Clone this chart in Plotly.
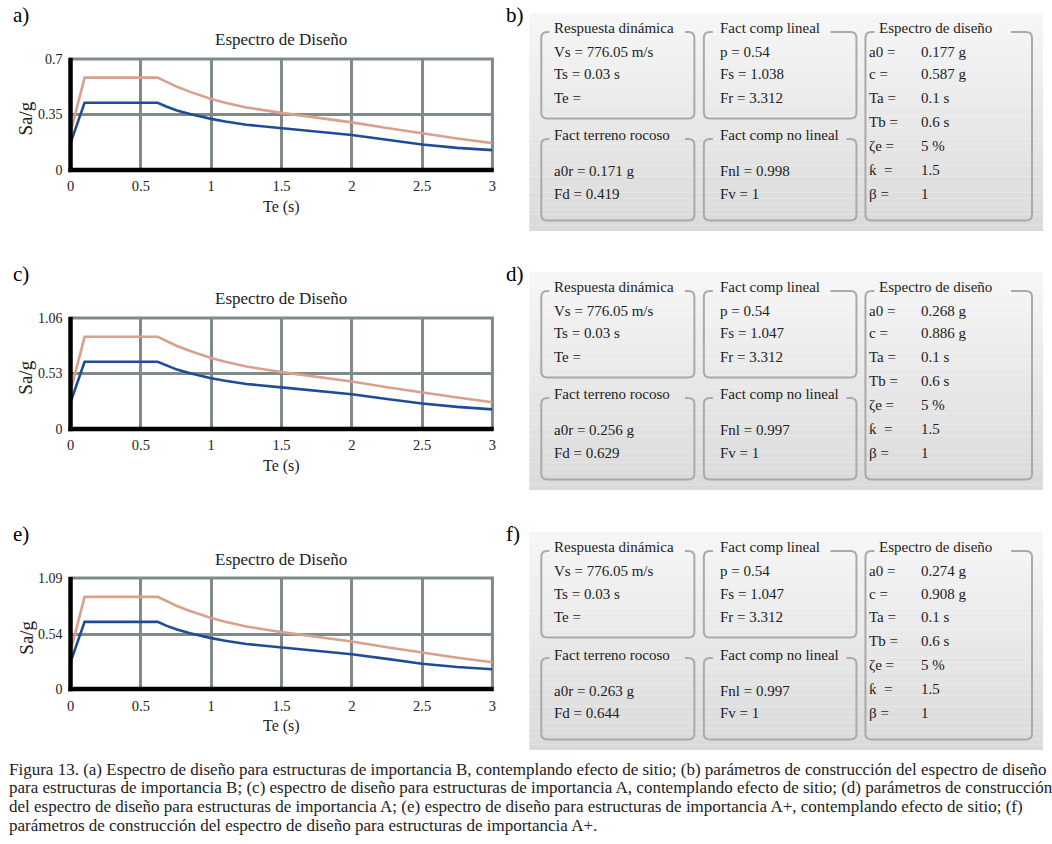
import plotly.graph_objects as go

W, H = 1052, 844
# measured mapping between figure pixels and the photographed picture (obs = A + S * fig)
AX, SX = 3.3, 0.995
AY, SY = 8.1, 0.982

# ---------------- data ----------------
T = [0, 0.1, 0.62, 0.68, 0.757, 0.85, 1.0, 1.1, 1.25, 1.5, 1.75, 2.0, 2.25, 2.5, 2.75, 3.0]

sa_a_upper = [0.236, 0.582, 0.582, 0.555, 0.524, 0.492, 0.447, 0.424, 0.394, 0.360, 0.331, 0.300, 0.264, 0.230, 0.198, 0.169]
sa_a_lower = [0.170, 0.424, 0.424, 0.400, 0.375, 0.352, 0.322, 0.305, 0.285, 0.264, 0.245, 0.220, 0.190, 0.160, 0.139, 0.125]

sa_c_upper = [0.360, 0.880, 0.880, 0.840, 0.793, 0.745, 0.677, 0.643, 0.597, 0.543, 0.501, 0.453, 0.399, 0.348, 0.300, 0.255]
sa_c_lower = [0.255, 0.642, 0.642, 0.606, 0.567, 0.533, 0.484, 0.460, 0.430, 0.397, 0.368, 0.332, 0.287, 0.243, 0.211, 0.187]

sa_e_upper = [0.370, 0.905, 0.905, 0.864, 0.816, 0.766, 0.697, 0.661, 0.614, 0.559, 0.515, 0.467, 0.411, 0.358, 0.308, 0.263]
sa_e_lower = [0.265, 0.660, 0.660, 0.623, 0.584, 0.548, 0.500, 0.474, 0.443, 0.410, 0.380, 0.342, 0.296, 0.249, 0.216, 0.194]

y_max = [0.7, 1.06, 1.09]
y_mid = [0.35, 0.53, 0.54]
y_tick_text = [["0", "0.35", "0.7"], ["0", "0.53", "1.06"], ["0", "0.54", "1.09"]]
x_ticks = [0, 0.5, 1, 1.5, 2, 2.5, 3]
x_tick_text = ["0", "0.5", "1", "1.5", "2", "2.5", "3"]

chart_labels = ["a)", "c)", "e)"]
param_labels = ["b)", "d)", "f)"]
chart_title = "Espectro de Diseño"
x_title = "Te (s)"
y_title = "Sa/g"

box_titles = ["Respuesta dinámica", "Fact comp lineal", "Espectro de diseño",
              "Fact terreno rocoso", "Fact comp no lineal"]
resp_lines = ["Vs = 776.05 m/s", "Ts = 0.03 s", "Te ="]
lin_p = "p = 0.54"
lin_fs = ["1.038", "1.047", "1.047"]
lin_fr = "3.312"
rock_a0r = ["0.171 g", "0.256 g", "0.263 g"]
rock_fd = ["0.419", "0.629", "0.644"]
nl_fnl = ["0.998", "0.997", "0.997"]
nl_fv = "1"
spec_names = ["a0 =", "c =", "Ta =", "Tb =", "ζe =", "ƙ  =", "β ="]
spec_a0 = ["0.177 g", "0.268 g", "0.274 g"]
spec_c = ["0.587 g", "0.886 g", "0.908 g"]
spec_rest = ["0.1 s", "0.6 s", "5 %", "1.5", "1"]

caption_lines = [
    "Figura 13. (a) Espectro de diseño para estructuras de importancia B, contemplando efecto de sitio; (b) parámetros de construcción del espectro de diseño",
    "para estructuras de importancia B; (c) espectro de diseño para estructuras de importancia A, contemplando efecto de sitio; (d) parámetros de construcción",
    "del espectro de diseño para estructuras de importancia A; (e) espectro de diseño para estructuras de importancia A+, contemplando efecto de sitio; (f)",
    "parámetros de construcción del espectro de diseño para estructuras de importancia A+.",
]

# ---------------- styling ----------------
FONT = "Liberation Serif"
TXT = "#222222"
ORANGE = "#D9A18D"
BLUE = "#1F4C97"
GRID = "#7E8B89"
BORDER = "#AAAAAA"


def px(x):
    return ((x - AX) / SX) / W


def py(y):
    return 1 - ((y - AY) / SY) / H


fig = go.Figure()
shapes = []
annotations = []


def note(x, y, s, size=15, anchor="left", color=TXT, angle=0):
    return dict(x=px(x), y=py(y), xref="paper", yref="paper", text=s, showarrow=False,
                xanchor=anchor, yanchor="middle", textangle=angle,
                font=dict(family=FONT, size=size, color=color))


series = [(sa_a_upper, sa_a_lower), (sa_c_upper, sa_c_lower), (sa_e_upper, sa_e_lower)]
offsets = [0, 259, 519]
plot_top = 60
plot_bot = 171
plot_left = 70
plot_right = 493

for i, (up, lo) in enumerate(series):
    off = offsets[i]
    xa = "x" if i == 0 else f"x{i+1}"
    ya = "y" if i == 0 else f"y{i+1}"
    fig.add_trace(go.Scatter(x=T, y=up, mode="lines", line=dict(color=ORANGE, width=2.6),
                             xaxis=xa, yaxis=ya, showlegend=False, hoverinfo="skip"))
    fig.add_trace(go.Scatter(x=T, y=lo, mode="lines", line=dict(color=BLUE, width=2.6),
                             xaxis=xa, yaxis=ya, showlegend=False, hoverinfo="skip"))
    axkey = "xaxis" if i == 0 else f"xaxis{i+1}"
    aykey = "yaxis" if i == 0 else f"yaxis{i+1}"
    fig.update_layout(**{
        axkey: dict(domain=[px(plot_left), px(plot_right)], range=[0, 3], anchor=ya,
                    tickvals=x_ticks, ticktext=x_tick_text, showgrid=True, gridcolor=GRID,
                    gridwidth=3, zeroline=False, showline=False, ticks="",
                    ticklabelstandoff=6, tickfont=dict(family=FONT, size=14.5, color=TXT)),
        aykey: dict(domain=[py(plot_bot + off), py(plot_top + off)], range=[0, y_max[i]], anchor=xa,
                    tickvals=[0, y_mid[i], y_max[i]], ticktext=y_tick_text[i], showgrid=True,
                    gridcolor=GRID, gridwidth=3, zeroline=False, showline=False, ticks="",
                    ticklabelstandoff=7, tickfont=dict(family=FONT, size=14, color=TXT)),
    })
    xd = f"{xa} domain"
    yd = f"{ya} domain"
    shapes.append(dict(type="rect", xref=xd, yref=yd, x0=0, x1=1, y0=0, y1=1,
                       line=dict(color=GRID, width=3), layer="below"))
    shapes.append(dict(type="line", xref=xd, yref=yd, x0=0, x1=0, y0=-0.02, y1=1.01,
                       line=dict(color="black", width=4.5), layer="above"))
    shapes.append(dict(type="line", xref=xd, yref=yd, x0=-0.005, x1=1.003, y0=0, y1=0,
                       line=dict(color="black", width=4.5), layer="above"))
    cx = (plot_left + plot_right) / 2
    annotations += [
        note(cx, 41 + off, chart_title, size=17, anchor="center"),
        note(cx, 208 + off, x_title, size=16, anchor="center"),
        note(25, 120 + off, y_title, size=19, anchor="center", angle=-90),
        note(10, 16 + off, chart_labels[i], size=21, color="black"),
    ]


def rounded_box(x0, y0, x1, y1, gap=None, r=6):
    """open rounded-rectangle path (pixel coords -> paper) with an optional gap in top edge"""
    def P(x, y):
        return f"{px(x):.5f},{py(y):.5f}"
    g0, g1 = gap if gap else (x0 + r, x0 + r)
    d = (f"M{P(g1, y0)} L{P(x1 - r, y0)} Q{P(x1, y0)} {P(x1, y0 + r)} "
         f"L{P(x1, y1 - r)} Q{P(x1, y1)} {P(x1 - r, y1)} "
         f"L{P(x0 + r, y1)} Q{P(x0, y1)} {P(x0, y1 - r)} "
         f"L{P(x0, y0 + r)} Q{P(x0, y0)} {P(x0 + r, y0)} L{P(g0, y0)}")
    return dict(type="path", xref="paper", yref="paper", path=d,
                line=dict(color=BORDER, width=2), fillcolor="rgba(0,0,0,0)", layer="above")


N_BANDS = 40
for i in range(3):
    off = offsets[i]
    top, bot = 14 + off, 232 + off
    for k in range(N_BANDS):
        t = k / (N_BANDS - 1)
        c = round(246 - 28 * t)
        shapes.append(dict(type="rect", xref="paper", yref="paper",
                           x0=px(530), x1=px(1045),
                           y0=py(top + (bot - top) * (k + 1) / N_BANDS),
                           y1=py(top + (bot - top) * k / N_BANDS),
                           line=dict(width=0), fillcolor=f"rgb({c},{c},{c})", layer="below"))
    r1t, r1b, r2t, r2b = 33 + off, 119.5 + off, 140 + off, 221.5 + off
    shapes += [
        rounded_box(542, r1t, 695.5, r1b, gap=(550, 686)),
        rounded_box(705, r1t, 858, r1b, gap=(714, 832)),
        rounded_box(867, r1t, 1034, r2b, gap=(876, 1013)),
        rounded_box(542, r2t, 695.5, r2b, gap=(550, 686)),
        rounded_box(705, r2t, 858, r2b, gap=(714, 848)),
    ]
    rows = [52.7, 75.5, 99, 123, 147, 171, 195]
    annotations += [
        note(505, 16 + off, param_labels[i], size=21, color="black"),
        note(553, 29 + off, box_titles[0]),
        note(719, 29 + off, box_titles[1]),
        note(879, 29 + off, box_titles[2]),
        note(553, 136.5 + off, box_titles[3]),
        note(719, 136.5 + off, box_titles[4]),
    ]
    for k, s in enumerate(resp_lines):
        annotations.append(note(553, rows[k] + off, s))
    annotations += [
        note(719, rows[0] + off, lin_p),
        note(719, rows[1] + off, f"Fs = {lin_fs[i]}"),
        note(719, rows[2] + off, f"Fr = {lin_fr}"),
        note(553, 172.5 + off, f"a0r = {rock_a0r[i]}"),
        note(553, 195 + off, f"Fd = {rock_fd[i]}"),
        note(719, 172.5 + off, f"Fnl = {nl_fnl[i]}"),
        note(719, 195 + off, f"Fv = {nl_fv}"),
    ]
    vals = [spec_a0[i], spec_c[i]] + spec_rest
    for k, (nm, v) in enumerate(zip(spec_names, vals)):
        annotations.append(note(869, rows[k] + off, nm))
        annotations.append(note(921, rows[k] + off, v))

for k, line in enumerate(caption_lines):
    annotations.append(note(6, 770 + 18.67 * k, line, size=17))

fig.update_layout(width=W, height=H, margin=dict(l=0, r=0, t=0, b=0),
                  paper_bgcolor="white", plot_bgcolor="white",
                  shapes=shapes, annotations=annotations, showlegend=False)

fig.write_html("out.html", config={"displayModeBar": False},
               post_script="document.body.style.margin='0px';document.body.style.padding='0px';")
